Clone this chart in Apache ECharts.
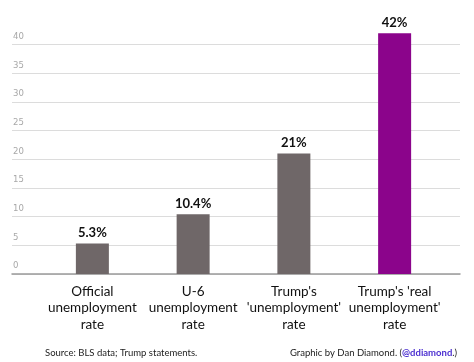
<!DOCTYPE html>
<html><head><meta charset="utf-8">
<script src="https://cdn.jsdelivr.net/npm/echarts@6/dist/echarts.min.js"></script>
<style>html,body{margin:0;padding:0;background:#fff}#c{width:474px;height:362px}</style>
</head><body><div id="c"></div>
<script>
const categories = ["Official\nunemployment\nrate", "U-6\nunemployment\nrate", "Trump's\n'unemployment'\nrate", "Trump's 'real\nunemployment'\nrate"];
const values = [5.3, 10.4, 21, 42];
const valueLabels = ["5.3%", "10.4%", "21%", "42%"];
const barColors = ["#6f6768", "#6f6768", "#6f6768", "#8b048b"];
const yTicks = [0, 5, 10, 15, 20, 25, 30, 35, 40];

const chart = echarts.init(document.getElementById('c'), null, {renderer: 'canvas'});
const gridTop = 16, gridBottom = 88;
chart.setOption({
  animation: false,
  backgroundColor: '#fff',
  grid: [
    {left: 42, right: 29, top: gridTop, bottom: gridBottom},
    {left: 12, right: 14, top: gridTop, bottom: gridBottom}
  ],
  xAxis: [
    {gridIndex: 0, type: 'category', data: categories,
     axisLine: {show: false}, axisTick: {show: false},
     axisLabel: {interval: 0, color: '#111', fontFamily: 'Lato, sans-serif', fontSize: 13.5, lineHeight: 16.5, margin: 9}},
    {gridIndex: 1, type: 'category', data: ['a'],
     axisLine: {show: true, lineStyle: {color: '#9a9a9a', width: 1.5}},
     axisTick: {show: false}, axisLabel: {show: false}}
  ],
  yAxis: [
    {gridIndex: 0, type: 'value', min: 0, max: 45, interval: 5, show: false, splitLine: {show: false}},
    {gridIndex: 1, type: 'value', min: 0, max: 45, interval: 5,
     axisLine: {show: false}, axisTick: {show: false},
     splitLine: {show: true, showMaxLine: false, lineStyle: {color: '#dcdcdc', width: 1}},
     axisLabel: {inside: true, showMaxLabel: false, margin: 1, verticalAlign: 'bottom', align: 'left',
       padding: [0, 0, 3, 0],
       formatter: v => (yTicks.indexOf(v) >= 0 ? String(v) : ''),
       color: '#a8a8a8', fontSize: 9.5, fontFamily: 'Liberation Sans Narrow, DejaVu Sans Condensed, sans-serif'}}
  ],
  title: [
    {left: 40, top: 343, text: 'Source: BLS data; Trump statements.',
     textStyle: {fontSize: 9.5, fontWeight: 'normal', color: '#222', fontFamily: 'Lato, sans-serif'}},
    {left: 285, top: 343, text: 'Graphic by Dan Diamond. ({h|@ddiamond}.)',
     textStyle: {fontSize: 9.5, fontWeight: 'normal', color: '#222', fontFamily: 'Lato, sans-serif',
       rich: {h: {color: '#4b2fd0', fontWeight: 'bold', fontSize: 9.5, fontFamily: 'Lato, sans-serif'}}}}
  ],
  series: [{
    type: 'bar', xAxisIndex: 0, yAxisIndex: 0, barWidth: 33,
    data: values.map((v, i) => ({value: v, itemStyle: {color: barColors[i]}})),
    label: {show: true, position: 'top', distance: 4, color: '#111', fontWeight: 'bold', fontSize: 13,
      fontFamily: 'Lato, sans-serif', formatter: p => valueLabels[p.dataIndex]}
  }]
});
</script></body></html>
